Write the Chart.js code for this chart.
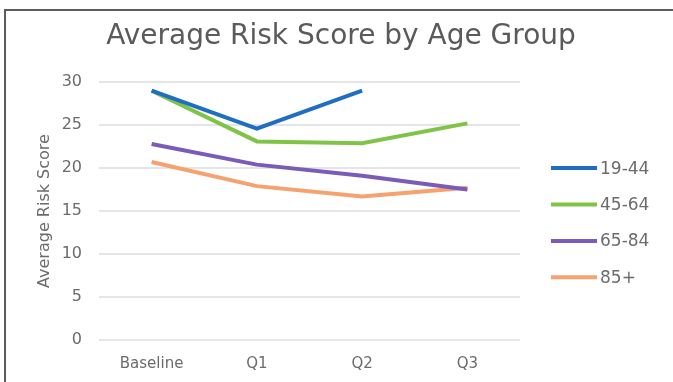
<!DOCTYPE html>
<html>
<head>
<meta charset="utf-8">
<script src="https://cdn.jsdelivr.net/npm/chart.js@4"></script>
<style>
  html, body { margin: 0; padding: 0; background: #fff; }
  #wrap { position: relative; width: 673px; height: 382px; overflow: hidden; }
  #frame {
    position: absolute; left: 4px; top: 9px; right: -10px; bottom: -10px;
    border-left: 2px solid #5c5c5c; border-top: 2px solid #5c5c5c;
    pointer-events: none;
  }
  canvas { position: absolute; left: 0; top: 0; }
</style>
</head>
<body>
<div id="wrap">
  <canvas id="risk-chart" width="673" height="382"></canvas>
  <div id="frame"></div>
</div>
<script>
const periods = ['Baseline', 'Q1', 'Q2', 'Q3'];
const ageGroups = ['19-44', '45-64', '65-84', '85+'];
const age19to44 = [29.0, 24.6, 29.0, null];
const age45to64 = [29.0, 23.1, 22.9, 25.2];
const age65to84 = [22.8, 20.4, 19.1, 17.5];
const age85plus = [20.7, 17.9, 16.7, 17.7];
const yTicks = [0, 5, 10, 15, 20, 25, 30];

const lineColors = ['#1f6ec2', '#80c447', '#7a5bb7', '#f5a26f'];
const series = [age19to44, age45to64, age65to84, age85plus];

const font = '"DejaVu Sans", Verdana, sans-serif';
const textGray = '#6b6b6b';

const datasets = series.map((data, i) => ({
  label: ageGroups[i],
  data,
  borderColor: lineColors[i],
  backgroundColor: lineColors[i],
  borderWidth: 4,
  pointRadius: 0,
  tension: 0,
  spanGaps: false
}));

// legend drawn to the right of the plot: a short line swatch followed by the label
const sideLegend = {
  id: 'sideLegend',
  afterDraw(chart) {
    const { ctx, chartArea } = chart;
    const x0 = chartArea.right + 31;
    const y0 = chartArea.top + 86;
    ctx.save();
    ctx.font = `17px ${font}`;
    ctx.textBaseline = 'middle';
    ctx.fillStyle = textGray;
    chart.data.datasets.forEach((ds, i) => {
      const y = y0 + i * 36.4;
      ctx.strokeStyle = ds.borderColor;
      ctx.lineWidth = 4;
      ctx.beginPath();
      ctx.moveTo(x0, y);
      ctx.lineTo(x0 + 46, y);
      ctx.stroke();
      ctx.fillText(ds.label, x0 + 49, y + 1);
    });
    ctx.restore();
  }
};

new Chart(document.getElementById('risk-chart'), {
  type: 'line',
  data: { labels: periods, datasets },
  plugins: [sideLegend],
  options: {
    responsive: false,
    animation: false,
    layout: { padding: { left: 25, right: 16, top: 0, bottom: 0 } },
    scales: {
      x: {
        offset: true,
        grid: { display: false, drawTicks: false },
        border: { display: false },
        ticks: { color: textGray, padding: 15, font: { family: font, size: 15 } },
        afterFit: (scale) => { scale.height = 42; }
      },
      y: {
        min: yTicks[0],
        max: yTicks[yTicks.length - 1],
        afterBuildTicks: (scale) => { scale.ticks = yTicks.map(v => ({ value: v })); },
        grid: { color: '#e3e5e7', lineWidth: 2, drawTicks: false },
        border: { display: false },
        ticks: { color: textGray, padding: 17, font: { family: font, size: 16 } },
        title: {
          display: true,
          text: 'Average Risk Score',
          color: textGray,
          padding: { top: 10, bottom: 0 },
          font: { family: font, size: 16 }
        },
        afterFit: (scale) => { scale.width = 74; }
      },
      // empty axis that keeps room free for the legend
      legendSpace: {
        position: 'right',
        display: true,
        grid: { display: false, drawTicks: false },
        border: { display: false },
        ticks: { display: false },
        afterFit: (scale) => { scale.width = 137; }
      }
    },
    plugins: {
      title: {
        display: true,
        text: 'Average Risk Score by Age Group',
        color: '#5a5a5a',
        padding: { top: 20, bottom: 28.5 },
        font: { family: font, size: 28, weight: 'normal' }
      },
      legend: { display: false },
      tooltip: { enabled: false }
    }
  }
});
</script>
</body>
</html>
